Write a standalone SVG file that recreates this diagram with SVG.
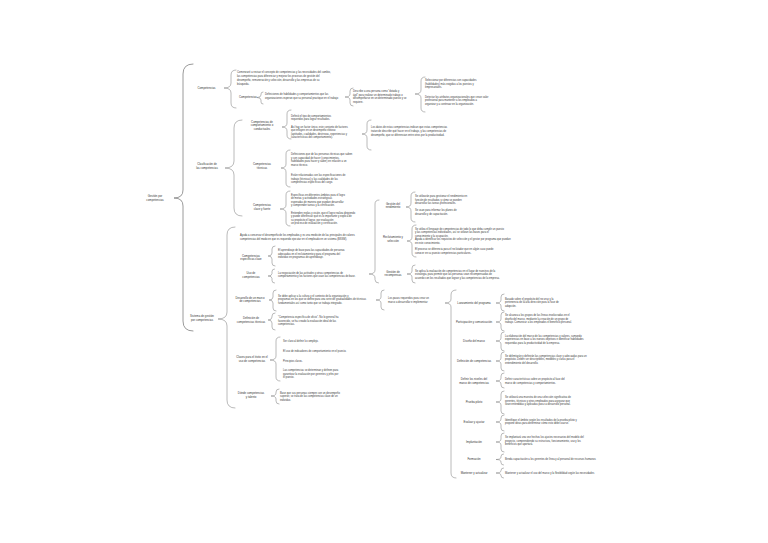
<svg xmlns="http://www.w3.org/2000/svg" width="768" height="543" viewBox="0 0 768 543">
<style>
.t{font-family:"Liberation Sans",Arial,sans-serif;font-size:2.6px;fill:#3a3a3a}
.l{font-family:"Liberation Sans",Arial,sans-serif;font-size:2.8px;fill:#333;text-anchor:middle}
.b{fill:none;stroke:#808080;stroke-width:0.55;stroke-linecap:round;stroke-linejoin:round}
.m{stroke-width:0.8}
</style>
<rect width="768" height="543" fill="#fff"/>
<g id="connectors">
<path class="b m" d="M193,64 Q183,64 183,74 L183,190 Q183,198 174,198 Q183,198 183,206 L183,321 Q183,331 193,331"/>
<path class="b" d="M236,70 Q231,70 231,75 L231,83 Q231,88 224,88 Q231,88 231,93 L231,103 Q231,108 236,108"/>
<path class="b" d="M242,120 Q234,120 234,128 L234,161 Q234,168 225,168 Q234,168 234,175 L234,208 Q234,216 242,216"/>
<path class="b" d="M235,227 Q227,227 227,235 L227,312 Q227,319 218,319 Q227,319 227,326 L227,400 Q227,408 235,408"/>
<path class="b" d="M263,92 Q261,92 261,94 L261,95 Q261,97.5 257,97.5 Q261,97.5 261,100 L261,102 Q261,104 263,104"/>
<path class="b" d="M353,88 Q350,88 350,91 L350,94 Q350,97 345,97 Q350,97 350,100 L350,103 Q350,106 353,106"/>
<path class="b" d="M425,77 Q421,77 421,81 L421,90 Q421,94 415,94 Q421,94 421,98 L421,108 Q421,112 425,112"/>
<path class="b" d="M291,110 Q287,110 287,114 L287,123 Q287,127 282,127 Q287,127 287,131 L287,135 Q287,139 291,139"/>
<path class="b" d="M371,120 Q367,120 367,124 L367,130 Q367,134 362,134 Q367,134 367,138 L367,146 Q367,150 371,150"/>
<path class="b" d="M290,150 Q286,150 286,154 L286,164 Q286,168 281,168 Q286,168 286,172 L286,183 Q286,187 290,187"/>
<path class="b" d="M290,191 Q286,191 286,195 L286,205 Q286,209 280,209 Q286,209 286,213 L286,222 Q286,226 290,226"/>
<path class="b" d="M275,246 Q272,246 272,249 L272,253 Q272,256 268,256 Q272,256 272,259 L272,263 Q272,266 275,266"/>
<path class="b" d="M274.5,269 Q272,269 272,271.5 L272,273.5 Q272,276 268,276 Q272,276 272,278.5 L272,280.5 Q272,283 274.5,283"/>
<path class="b" d="M276,290 Q273,290 273,293 L273,297 Q273,300 269,300 Q273,300 273,303 L273,308 Q273,311 276,311"/>
<path class="b" d="M275,313 Q272,313 272,316 L272,317 Q272,320 268,320 Q272,320 272,323 L272,327 Q272,330 275,330"/>
<path class="b" d="M280,337 Q276,337 276,341 L276,356 Q276,360 270,360 Q276,360 276,364 L276,377 Q276,381 280,381"/>
<path class="b" d="M279,389 Q276,389 276,392 L276,393 Q276,396 271,396 Q276,396 276,399 L276,401 Q276,404 279,404"/>
<path class="b" d="M379,200 Q375,200 375,204 L375,270 Q375,274 369,274 Q375,274 375,278 L375,279.5 Q375,283 378.5,283"/>
<path class="b" d="M415,192 Q411,192 411,196 L411,203 Q411,207 406,207 Q411,207 411,211 L411,218 Q411,222 415,222"/>
<path class="b" d="M416,225 Q412,225 412,229 L412,237 Q412,241 407,241 Q412,241 412,245 L412,253 Q412,257 416,257"/>
<path class="b" d="M415,265 Q412,265 412,268 L412,271 Q412,274 407,274 Q412,274 412,277 L412,280 Q412,283 415,283"/>
<path class="b" d="M384,290 Q381,290 381,293 L381,297 Q381,300 376,300 Q381,300 381,303 L381,307 Q381,310 384,310"/>
<path class="b" d="M456,290 Q451,290 451,295 L451,299 Q451,303 445,303 Q451,303 451,307 L451,473 Q451,478 456,478"/>
<path class="b" d="M504,294 Q501,294 501,297 L501,300 Q501,303 496,303 Q501,303 501,306 L501,308 Q501,311 504,311"/>
<path class="b" d="M504,312 Q501,312 501,315 L501,319 Q501,322 496,322 Q501,322 501,325 L501,328 Q501,331 504,331"/>
<path class="b" d="M504,332 Q501,332 501,335 L501,338 Q501,341 496,341 Q501,341 501,344 L501,348 Q501,351 504,351"/>
<path class="b" d="M504,352 Q501,352 501,355 L501,358 Q501,361 496,361 Q501,361 501,364 L501,368 Q501,371 504,371"/>
<path class="b" d="M504,373 Q501,373 501,376 L501,378 Q501,381 496,381 Q501,381 501,384 L501,385 Q501,388 504,388"/>
<path class="b" d="M504,391 Q501,391 501,394 L501,399 Q501,402 496,402 Q501,402 501,405 L501,411 Q501,414 504,414"/>
<path class="b" d="M504,415 Q501,415 501,418 L501,419 Q501,422 496,422 Q501,422 501,425 L501,428 Q501,431 504,431"/>
<path class="b" d="M504,433 Q501,433 501,436 L501,439 Q501,442 496,442 Q501,442 501,445 L501,449 Q501,452 504,452"/>
<path class="b" d="M503.5,454 Q501,454 501,456.5 L501,457 Q501,459.5 496,459.5 Q501,459.5 501,462 L501,462.5 Q501,465 503.5,465"/>
<path class="b" d="M503.5,468 Q501,468 501,470.5 Q501,473 496,473 Q501,473 501,475.5 Q501,478 503.5,478"/>
</g>
<g id="root"><text class="l" x="155" y="196.5">Gestión por</text><text class="l" x="155" y="200.5">competencias</text></g>
<g id="competencias"><text class="l" x="206.5" y="89.3">Competencias</text></g>
<g id="competencias-intro">
<text class="t" x="237" y="73">Comenzaré a revisar el concepto de competencias y las necesidades del cambio,</text>
<text class="t" x="237" y="76.9">las competencias para diferenciar y mejorar los procesos de gestión del</text>
<text class="t" x="237" y="80.8">desempeño, remuneración y selección, desarrollo y las empresas de su</text>
<text class="t" x="237" y="84.7">búsqueda.</text>
</g>
<g id="competencias-def"><text class="l" x="248" y="98.3">Competencias</text></g>
<g id="definiciones">
<text class="t" x="265" y="95.3">Definiciones de habilidades y comportamientos que las</text>
<text class="t" x="265" y="99.1">organizaciones esperan que su personal practique en el trabajo</text>
</g>
<g id="describe">
<text class="t" x="353" y="92">Describe a una persona como "dotada y</text>
<text class="t" x="353" y="95.6">ágil" para realizar un determinado trabajo o</text>
<text class="t" x="353" y="99.2">desempeñarse en un determinado puesto y se</text>
<text class="t" x="353" y="102.8">requiere.</text>
</g>
<g id="seleccionar">
<text class="t" x="425" y="81">Seleccionar por diferencias con capacidades</text>
<text class="t" x="425" y="84.6">(habilidades) más exigidas a los puestos y</text>
<text class="t" x="425" y="88.2">empresariales.</text>
<text class="t" x="425" y="97.5">Detectar los atributos organizacionales que crean valor</text>
<text class="t" x="425" y="101.1">profesional para mantener a los empleados a</text>
<text class="t" x="425" y="104.7">organizar y a continuar en la organización.</text>
</g>
<g id="clasificacion"><text class="l" x="207" y="165">Clasificación de</text><text class="l" x="207" y="169">las competencias</text></g>
<g id="conductuales">
<text class="l" x="262" y="122.5">Competencias de</text><text class="l" x="262" y="126.3">comportamiento o</text><text class="l" x="262" y="130.1">conductuales</text>
<text class="t" x="291" y="116.5">Definió el tipo de comportamientos</text>
<text class="t" x="291" y="120.1">requeridos para lograr resultados.</text>
<text class="t" x="291" y="128">Así hay un factor único, este conjunto de factores</text>
<text class="t" x="291" y="131.4">que influyen en un desempeño exitoso</text>
<text class="t" x="291" y="134.8">(aptitudes, cualidades, destrezas, experiencias y</text>
<text class="t" x="291" y="138.2">características del comportamiento).</text>
</g>
<g id="conductuales-detalle">
<text class="t" x="371" y="128">Los datos de estas competencias indican que estas competencias</text>
<text class="t" x="371" y="132">tratan de describir qué hacer en el trabajo, y las competencias de</text>
<text class="t" x="371" y="136">desempeño, que se diferencian entre otros por la productividad.</text>
</g>
<g id="tecnicas">
<text class="l" x="262" y="165.3">Competencias</text><text class="l" x="262" y="169.1">técnicas</text>
<text class="t" x="291" y="155">Definiciones que de las personas técnicas que saben</text>
<text class="t" x="291" y="158.5">y con capacidad de hacer (conocimientos,</text>
<text class="t" x="291" y="162">habilidades para hacer y saber) en relación a un</text>
<text class="t" x="291" y="165.5">marco técnico.</text>
<text class="t" x="291" y="176">Están relacionadas con las especificaciones de</text>
<text class="t" x="291" y="179.5">trabajo (técnicas) y las cualidades de las</text>
<text class="t" x="291" y="183">competencias específicas del cargo.</text>
</g>
<g id="clave">
<text class="l" x="262" y="206.3">Competencias</text><text class="l" x="262" y="210.1">clave y fuerte</text>
<text class="t" x="291" y="195.5">Específicas en diferentes ámbitos para el logro</text>
<text class="t" x="291" y="199">de metas y actividades estratégicas</text>
<text class="t" x="291" y="202.5">esperadas de manera que puedan desarrollar</text>
<text class="t" x="291" y="206">y comprender tareas y la certificación.</text>
<text class="t" x="291" y="213.5">Entienden reglas y visión, que el logro realiza dirigiendo</text>
<text class="t" x="291" y="217">y puede diferenciar qué es lo importante y explica de</text>
<text class="t" x="291" y="220.5">su propósito el lograr, por evaluación</text>
<text class="t" x="291" y="224">un proceso de evaluación y certificación.</text>
</g>
<g id="sistema"><text class="l" x="202" y="316.5">Sistema de gestión</text><text class="l" x="202" y="320.5">por competencias</text></g>
<g id="sistema-intro">
<text class="t" x="240" y="236.3">Ayuda a conservar el desempeño de los empleados y es una medición de las principales de valores</text>
<text class="t" x="240" y="240">competencias del modo en que es requerido ejecutar en el empleado en un sistema (BSSM).</text>
</g>
<g id="especificas">
<text class="l" x="251" y="256.5">Competencias</text><text class="l" x="251" y="260.3">específicas clave</text>
<text class="t" x="278" y="251">El aprendizaje de base para las capacidades de personas</text>
<text class="t" x="278" y="254.5">adecuadas en el reclutamiento y para el programa del</text>
<text class="t" x="278" y="258">individuo en programas de aprendizaje.</text>
</g>
<g id="uso">
<text class="l" x="251" y="274">Uso de</text><text class="l" x="251" y="277.8">competencias</text>
<text class="t" x="278" y="273.5">La negociación de las actitudes y otras competencias de</text>
<text class="t" x="278" y="277">comportamiento y los factores que usan las competencias de base.</text>
</g>
<g id="rendimiento">
<text class="l" x="393" y="204.5">Gestión del</text><text class="l" x="393" y="208.3">rendimiento</text>
<text class="t" x="415" y="197">Se utilizarán para gestionar el rendimiento en</text>
<text class="t" x="415" y="200.5">función de resultados y cómo se pueden</text>
<text class="t" x="415" y="204">desarrollar las tareas profesionales.</text>
<text class="t" x="415" y="211">Se usan para informar los planes de</text>
<text class="t" x="415" y="214.5">desarrollo y de capacitación.</text>
</g>
<g id="reclutamiento">
<text class="l" x="393" y="238">Reclutamiento y</text><text class="l" x="393" y="241.8">selección</text>
<text class="t" x="415" y="230">Se utiliza el lenguaje de competencias de todo lo que deba cumplir un puesto</text>
<text class="t" x="415" y="233.4">y las competencias individuales, así se utilizan las bases para el</text>
<text class="t" x="415" y="236.8">conocimiento y la ocupación.</text>
<text class="t" x="415" y="240.2">Ayuda a identificar los requisitos de selección y el gestor por programa que puedan</text>
<text class="t" x="415" y="243.6">en este conocimiento.</text>
<text class="t" x="415" y="250.3">El proceso se diferencia para el reclutador que en algún caso puede</text>
<text class="t" x="415" y="253.7">conocer en su puesto competencias particulares.</text>
</g>
<g id="recompensas">
<text class="l" x="393" y="272.5">Gestión de</text><text class="l" x="393" y="276.3">recompensas</text>
<text class="t" x="415" y="271.5">Se aplica la evaluación de competencias en el lugar de nuestros de la</text>
<text class="t" x="415" y="275">estrategia, para permitir que las personas sean recompensadas de</text>
<text class="t" x="415" y="278.5">acuerdo con los resultados que logran y las competencias de la empresa.</text>
</g>
<g id="marco">
<text class="l" x="250" y="298.5">Desarrollo de un marco</text><text class="l" x="250" y="302.3">de competencias</text>
<text class="t" x="278" y="296.5">Se debe aplicar a la cultura y el contexto de la organización y</text>
<text class="t" x="278" y="300">programas en los que se define para una serie de gradualidades de técnicas</text>
<text class="t" x="278" y="303.5">fundamentales así como tanto que se trabaja integrado.</text>
</g>
<g id="pasos">
<text class="t" x="388" y="299">Los pasos requeridos para crear un</text>
<text class="t" x="388" y="302.5">marco a desarrollar e implementar</text>
</g>
<g id="r1"><text class="l" x="474" y="303.5">Lanzamiento del programa</text>
<text class="t" x="505" y="299.5">Basado sobre el propósito del recurso y la</text>
<text class="t" x="505" y="303">pertenencia de la alta dirección para la fase de</text>
<text class="t" x="505" y="306.5">adopción.</text></g>
<g id="r2"><text class="l" x="474" y="322.5">Participación y comunicación</text>
<text class="t" x="505" y="316">Se alcanza a los grupos de las líneas involucradas en el</text>
<text class="t" x="505" y="319.6">diseño del marco, mediante la creación de un grupo de</text>
<text class="t" x="505" y="323.2">trabajo. Comunicar a los empleados el beneficio personal.</text></g>
<g id="r3"><text class="l" x="474" y="341.5">Diseño del marco</text>
<text class="t" x="505" y="336.5">La elaboración del marco de las competencias y valores, sumando</text>
<text class="t" x="505" y="340">experiencias en base a los nuevos objetivos e identificar habilidades</text>
<text class="t" x="505" y="343.5">requeridas para la productividad de la empresa.</text></g>
<g id="r4"><text class="l" x="474" y="361.5">Definición de competencias</text>
<text class="t" x="505" y="356.5">Se delimitarán y definirán las competencias clave y adecuadas para un</text>
<text class="t" x="505" y="360.1">propósito. Deben ser descriptibles, medibles y claras para el</text>
<text class="t" x="505" y="363.7">entendimiento del desarrollo.</text></g>
<g id="r5"><text class="l" x="474" y="380">Definir los niveles del</text><text class="l" x="474" y="383.8">marco de competencias</text>
<text class="t" x="505" y="380">Definir características sobre un propósito al fase del</text>
<text class="t" x="505" y="383.6">marco de competencias y comportamientos.</text></g>
<g id="r6"><text class="l" x="474" y="402.8">Prueba piloto</text>
<text class="t" x="505" y="398">Se utilizará una muestra de una selección significativa de</text>
<text class="t" x="505" y="401.6">gerentes, técnicos y otros empleados para asegurar que</text>
<text class="t" x="505" y="405.2">sean entendidas y aplicadas para su desarrollo personal.</text></g>
<g id="r7"><text class="l" x="474" y="422.8">Evaluar y ajustar</text>
<text class="t" x="505" y="420.5">Identifique el ámbito según los resultados de la prueba piloto y</text>
<text class="t" x="505" y="424.1">propone ideas para determinar cómo esto debe usarse.</text></g>
<g id="r8"><text class="l" x="474" y="442.8">Implantación</text>
<text class="t" x="505" y="438">Se implantará una vez hechos los ajustes necesarios del modelo del</text>
<text class="t" x="505" y="441.6">proyecto, comprendiendo su estructura, funcionamiento, uso y los</text>
<text class="t" x="505" y="445.2">beneficios que aportará.</text></g>
<g id="r9"><text class="l" x="474" y="460.3">Formación</text>
<text class="t" x="505" y="460.3">Brinda capacitación a los gerentes de línea y al personal de recursos humanos</text></g>
<g id="r10"><text class="l" x="474" y="474">Mantener y actualizar</text>
<text class="t" x="505" y="474">Mantener y actualizar el uso del marco y la flexibilidad según las necesidades</text></g>
<g id="tecnicas-def">
<text class="l" x="251" y="319">Definición de</text><text class="l" x="251" y="322.8">competencias técnicas</text>
<text class="t" x="278" y="318">"Competencia específica de oficio". No lo general ha</text>
<text class="t" x="278" y="321.5">favorecido, se ha creado la evaluación ideal de las</text>
<text class="t" x="278" y="325">competencias.</text>
</g>
<g id="claves-exito">
<text class="l" x="252" y="357.8">Claves para el éxito en el</text><text class="l" x="252" y="361.6">uso de competencias</text>
<text class="t" x="283" y="341.8">Ser claro al definir lo complejo.</text>
<text class="t" x="283" y="352.3">El uso de indicadores de comportamiento en el puesto.</text>
<text class="t" x="283" y="362">Principios claros.</text>
<text class="t" x="283" y="371.3">Las competencias se determinan y definen para</text>
<text class="t" x="283" y="374.8">garantizar la evaluación por gerentes y jefes por</text>
<text class="t" x="283" y="378.3">el puesto.</text>
</g>
<g id="talento">
<text class="l" x="251" y="394.3">Dónde competencias</text><text class="l" x="251" y="398.1">y talento</text>
<text class="t" x="280" y="393.8">Base que sus personas siempre con un desempeño</text>
<text class="t" x="280" y="397.3">superior, se trata de las competencias clave de un</text>
<text class="t" x="280" y="400.8">individuo.</text>
</g>
</svg>
